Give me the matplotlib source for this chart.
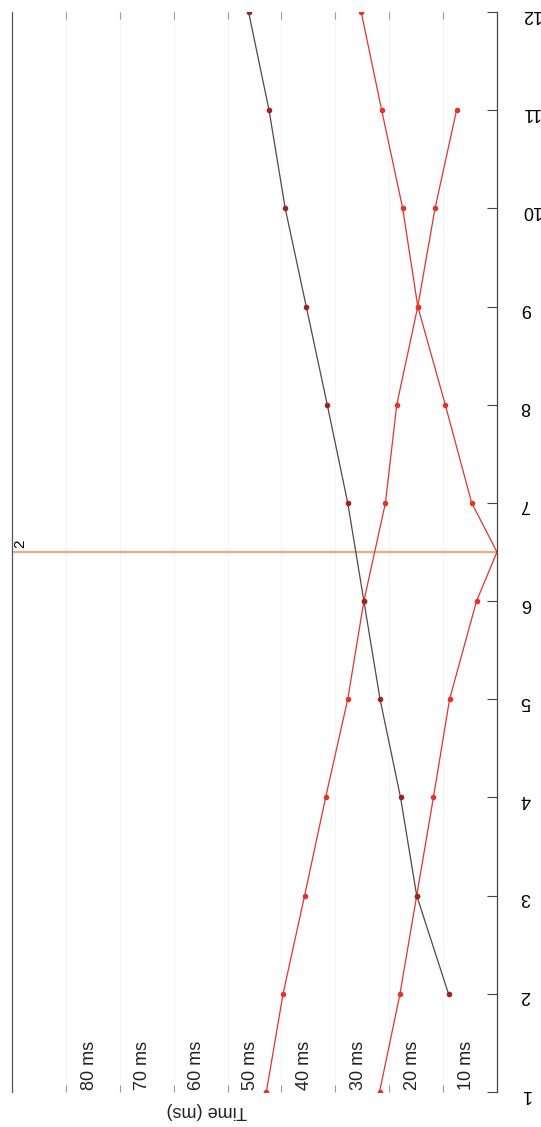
import numpy as np
import matplotlib
matplotlib.use("Agg")
import matplotlib.pyplot as plt
import matplotlib.transforms as mtransforms

plt.rcParams["font.family"] = ["Liberation Sans", "DejaVu Sans"]

cats = [1, 2, 3, 4, 5, 6, 7, 8, 9, 10, 11, 12]
cat_labels = ["1", "2", "3", "4", "5", "6", "7", "8", "9", "10", "11", "12"]

b_x = [1, 2, 3, 4, 5, 6, 7, 8, 9, 10, 11]
b_t = [42.8, 39.7, 35.7, 31.8, 27.7, 24.7, 20.7, 18.6, 14.7, 11.5, 7.5]

c_x = [1, 2, 3, 4, 5, 6, 6.5, 7, 8, 9, 10, 11, 12]
c_t = [21.8, 18.0, 14.9, 11.8, 8.8, 3.8, 0.0, 4.7, 9.6, 14.7, 17.5, 21.4, 25.2]
c_marks = [0, 1, 2, 3, 4, 5, 7, 8, 9, 10, 11, 12]

d_x = [2, 3, 4, 5, 6, 7, 8, 9, 10, 11, 12]
d_t = [9.0, 14.9, 17.9, 21.7, 24.7, 27.7, 31.5, 35.4, 39.3, 42.3, 46.1]

time_ticks = [10, 20, 30, 40, 50, 60, 70, 80]
marker_pos = 6.5
marker_label = "2"

W, H = 541, 1127
fig = plt.figure(figsize=(W / 100, H / 100), dpi=100)
ax = fig.add_axes([12 / W, (H - 1092) / H, (497 - 12) / W, (1092 - 12) / H])

red = "#e2342c"
ax.plot(b_t, b_x, color=red, lw=0.9, marker="o", ms=3, mec=red, mfc=red)
ax.plot(c_t, c_x, color=red, lw=0.9, marker="o", ms=3, mec=red, mfc=red,
        markevery=c_marks)
ax.plot(d_t, d_x, color="#5c4444", lw=0.9, marker="o", ms=3,
        mec="#a3201c", mfc="#a3201c")

# orange marker line
ax.axhline(marker_pos, color="#f0a882", lw=1.6, zorder=1)
ax.text(88.4, marker_pos + 0.04, marker_label, rotation=90, fontsize=11,
        ha="center", va="bottom")

ax.set_xlim(90, 0)
ax.set_ylim(1, 12)

for t in time_ticks:
    ax.axvline(t, color="#f3f3f3", lw=0.6, zorder=0)

# time ticks at both ends, labels inside
ax.set_xticks(time_ticks)
ax.tick_params(axis="x", direction="in", length=5, width=0.8, color="#999999",
               top=True, bottom=True, labelbottom=False)
trans = mtransforms.blended_transform_factory(ax.transData, ax.transAxes)
for t in time_ticks:
    ax.text(t - 4.3, 0.0015, f"{t} ms", transform=trans, rotation=90,
            fontsize=13, ha="center", va="bottom", color="#222222")

fig.text(207 / W, 1 - 1110 / H, "Time (ms)", rotation=180, fontsize=13,
         ha="center", va="center", color="#222222")

ax.yaxis.tick_right()
ax.set_yticks(cats)
ax.set_yticklabels(cat_labels)
ax.tick_params(axis="y", direction="in", length=7, width=0.8, color="#444444",
               pad=17, labelsize=13, labelrotation=180)

ax.spines["top"].set_visible(False)
ax.spines["bottom"].set_visible(False)
ax.spines["right"].set_color("#444444")
ax.spines["left"].set_color("#555555")
ax.spines["right"].set_linewidth(0.9)
ax.spines["left"].set_linewidth(0.9)

fig.savefig("out.png", dpi=100)
